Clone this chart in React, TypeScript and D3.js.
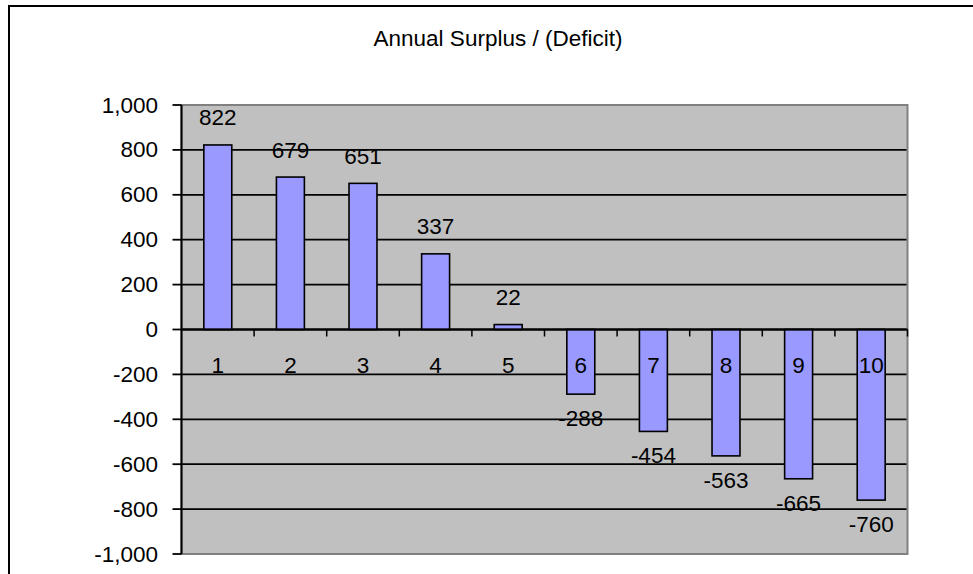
import React from "react";
import * as d3 from "d3";

const categories = ["1", "2", "3", "4", "5", "6", "7", "8", "9", "10"];
const values = [822, 679, 651, 337, 22, -288, -454, -563, -665, -760];
const yTicks = [1000, 800, 600, 400, 200, 0, -200, -400, -600, -800, -1000];
const title = "Annual Surplus / (Deficit)";

const W = 973;
const H = 574;
const plot = { left: 181.5, right: 907.5, top: 105, bottom: 554 };
const font = "'Liberation Sans', Arial, sans-serif";

export default function App() {
  const x = d3
    .scaleBand<string>()
    .domain(categories)
    .range([plot.left, plot.right])
    .paddingInner(0.615)
    .paddingOuter(0.3075);
  const band = d3.scaleBand<string>().domain(categories).range([plot.left, plot.right]);
  const y = d3.scaleLinear().domain([-1000, 1000]).range([plot.bottom, plot.top]);
  const fmt = (t: number) => d3.format(",")(t).replace("\u2212", "-");
  const y0 = y(0);

  return (
    <svg
      width={W}
      height={H}
      style={{ position: "absolute", left: 0, top: 0 }}
      fontFamily={font}
    >
      <rect x={0} y={0} width={W} height={H} fill="#fff" />
      {/* outer chart border (right/bottom edges beyond the image) */}
      <path d={`M9,${H + 2} V6 H${W + 2}`} fill="none" stroke="#000" strokeWidth={2} />
      <text x={498} y={46} textAnchor="middle" fontSize={22.5} fill="#000">
        {title}
      </text>
      {/* plot area */}
      <rect
        x={plot.left}
        y={plot.top}
        width={plot.right - plot.left}
        height={plot.bottom - plot.top}
        fill="#C0C0C0"
        stroke="#808080"
        strokeWidth={2}
      />
      {/* gridlines */}
      {yTicks
        .filter((t) => t !== 1000 && t !== -1000)
        .map((t) => (
          <line
            key={"g" + t}
            x1={plot.left}
            x2={plot.right - 1}
            y1={y(t)}
            y2={y(t)}
            stroke="#000"
            strokeWidth={1.8}
          />
        ))}
      {/* bars */}
      {values.map((v, i) => {
        const c = categories[i];
        const top = Math.min(y(v), y0);
        const h = Math.abs(y(v) - y0);
        return (
          <rect
            key={"b" + c}
            x={x(c)}
            y={top}
            width={x.bandwidth()}
            height={h}
            fill="#9999FF"
            stroke="#000"
            strokeWidth={1.6}
          />
        );
      })}
      {/* y axis */}
      <line x1={plot.left} x2={plot.left} y1={plot.top} y2={plot.bottom} stroke="#000" strokeWidth={2} />
      {yTicks.map((t) => (
        <g key={"t" + t}>
          <line x1={plot.left - 9} x2={plot.left} y1={y(t)} y2={y(t)} stroke="#000" strokeWidth={1.8} />
          <text x={158} y={y(t) + 7.5} textAnchor="end" fontSize={22.5} fill="#000">
            {fmt(t)}
          </text>
        </g>
      ))}
      {/* x axis at zero */}
      <line x1={plot.left} x2={plot.right} y1={y0} y2={y0} stroke="#000" strokeWidth={2} />
      {categories.map((c) => (
        <line
          key={"xt" + c}
          x1={(band(c) as number) + band.bandwidth()}
          x2={(band(c) as number) + band.bandwidth()}
          y1={y0}
          y2={y0 + 7}
          stroke="#000"
          strokeWidth={1.5}
        />
      ))}
      {categories.map((c) => (
        <text
          key={"xl" + c}
          x={(band(c) as number) + band.bandwidth() / 2}
          y={y0 + 43.5}
          textAnchor="middle"
          fontSize={22.5}
          fill="#000"
        >
          {c}
        </text>
      ))}
      {/* data labels */}
      {values.map((v, i) => {
        const c = categories[i];
        const cx = (band(c) as number) + band.bandwidth() / 2;
        const ly = v >= 0 ? y(v) - 19.5 : y(v) + 32;
        return (
          <text key={"dl" + c} x={cx} y={ly} textAnchor="middle" fontSize={22.5} fill="#000">
            {v}
          </text>
        );
      })}
    </svg>
  );
}
